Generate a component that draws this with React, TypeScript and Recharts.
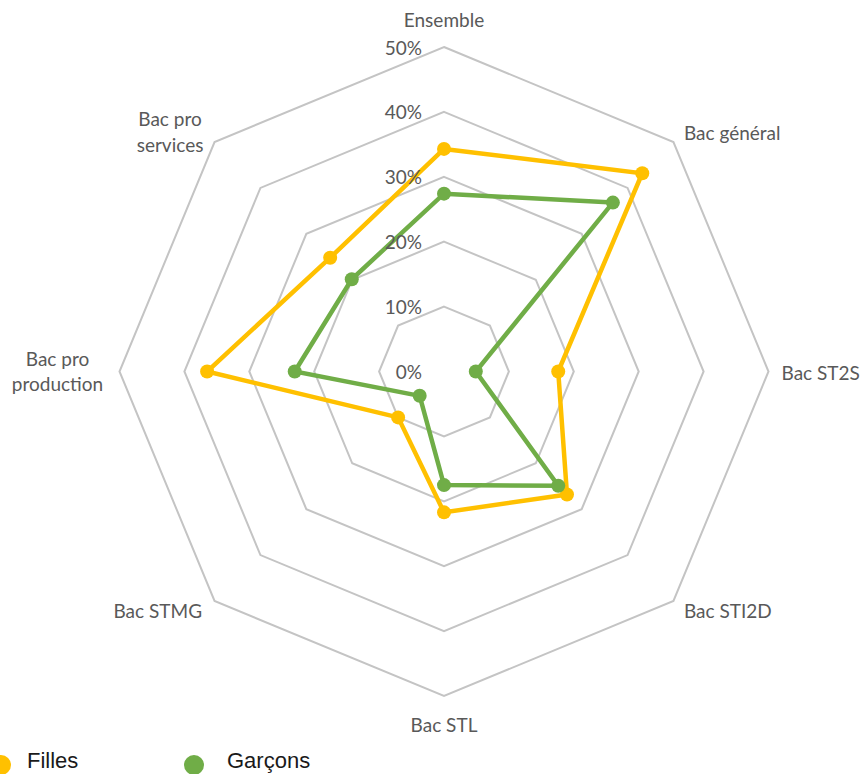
import { RadarChart, Radar, PolarGrid, PolarAngleAxis, PolarRadiusAxis, Legend } from 'recharts'

const categories = [
  'Ensemble',
  'Bac général',
  'Bac ST2S',
  'Bac STI2D',
  'Bac STL',
  'Bac STMG',
  'Bac pro production',
  'Bac pro services',
]
const filles = [34.3, 43.2, 17.6, 26.8, 21.7, 10.0, 36.5, 24.8]
const garcons = [27.4, 36.8, 4.9, 24.9, 17.5, 5.3, 23.0, 20.1]
const radiusTicks = [0, 10, 20, 30, 40, 50]

const data = categories.map((name, i) => ({ name, filles: filles[i], garcons: garcons[i] }))

const CX = 444
const CY = 371.5
const R = 324.5
const LABEL_FONT = 'Lato, "Liberation Sans", sans-serif'
const GRAY = '#595959'
const ORANGE = '#FFC000'
const GREEN = '#70AD47'

// how each category label sits next to its vertex (wrapped labels get two lines)
const labelLayout: { dx: number; dy: number[]; anchor: 'start' | 'middle' | 'end'; lines?: string[] }[] = [
  { dx: 0, dy: [-28], anchor: 'middle' },
  { dx: 10.5, dy: [-10], anchor: 'start' },
  { dx: 13, dy: [1], anchor: 'start' },
  { dx: 10.5, dy: [10], anchor: 'start' },
  { dx: 0, dy: [28], anchor: 'middle' },
  { dx: -12.5, dy: [10], anchor: 'end' },
  { dx: -62, dy: [-13, 12], anchor: 'middle', lines: ['Bac pro', 'production'] },
  { dx: -44.5, dy: [-23.5, 2], anchor: 'middle', lines: ['Bac pro', 'services'] },
]

const AngleTick = (props: any) => {
  const { payload } = props
  const i = categories.indexOf(payload.value)
  const a = (payload.coordinate * Math.PI) / 180
  const vx = CX + R * Math.cos(a)
  const vy = CY - R * Math.sin(a)
  const l = labelLayout[i]
  const lines = l.lines ?? [payload.value]
  return (
    <g>
      {lines.map((t, k) => (
        <text
          key={k}
          x={vx + l.dx}
          y={vy + l.dy[k]}
          textAnchor={l.anchor}
          dominantBaseline="central"
          fill={GRAY}
          fontSize={19}
          fontFamily={LABEL_FONT}
        >
          {t}
        </text>
      ))}
    </g>
  )
}

const RadiusTick = ({ x, y, payload }: any) => (
  <text
    x={x - 22}
    y={y}
    textAnchor="end"
    dominantBaseline="central"
    fill={GRAY}
    fontSize={19}
    fontFamily={LABEL_FONT}
  >
    {payload.value}%
  </text>
)

const makeDot = (color: string) => (p: any) => (
  <circle key={`dot-${p.index}`} cx={p.cx} cy={p.cy} r={7} fill={color} stroke="none" />
)

// legend entries: circle centre and text start
const legendPos = [
  { dot: 1, text: 27 },
  { dot: 194, text: 227 },
]

const LegendContent = ({ payload }: any) => (
  <svg width={864} height={30} style={{ display: 'block' }}>
    {(payload ?? []).map((p: any, i: number) => (
      <g key={p.value}>
        <circle cx={legendPos[i].dot} cy={21} r={10} fill={p.color} />
        <text
          x={legendPos[i].text}
          y={24}
          fontSize={22}
          fontFamily='"Liberation Sans", Arial, sans-serif'
          fill="#1a1a1a"
        >
          {p.value}
        </text>
      </g>
    ))}
  </svg>
)

export default function App() {
  return (
    <div style={{ position: 'absolute', left: 0, top: 0, background: '#fff' }}>
      <RadarChart
        width={864}
        height={774}
        data={data}
        cx={CX}
        cy={CY}
        outerRadius={R}
        margin={{ top: 0, right: 0, bottom: 0, left: 0 }}
      >
        <PolarGrid gridType="polygon" radialLines={false} stroke="#c4c4c4" strokeWidth={2} />
        <PolarAngleAxis dataKey="name" tick={AngleTick} tickLine={false} axisLine={false} />
        <PolarRadiusAxis
          angle={90}
          domain={[0, 50]}
          ticks={radiusTicks}
          tick={RadiusTick}
          axisLine={false}
          tickLine={false}
        />
        <Radar
          name="Filles"
          dataKey="filles"
          stroke={ORANGE}
          strokeWidth={4.5}
          fill="none"
          fillOpacity={0}
          dot={makeDot(ORANGE)}
          isAnimationActive={false}
        />
        <Radar
          name="Garçons"
          dataKey="garcons"
          stroke={GREEN}
          strokeWidth={4.5}
          fill="none"
          fillOpacity={0}
          dot={makeDot(GREEN)}
          isAnimationActive={false}
        />
        <Legend
          content={LegendContent}
          wrapperStyle={{ position: 'absolute', left: 0, top: 744, width: 864, height: 30 }}
        />
      </RadarChart>
    </div>
  )
}
